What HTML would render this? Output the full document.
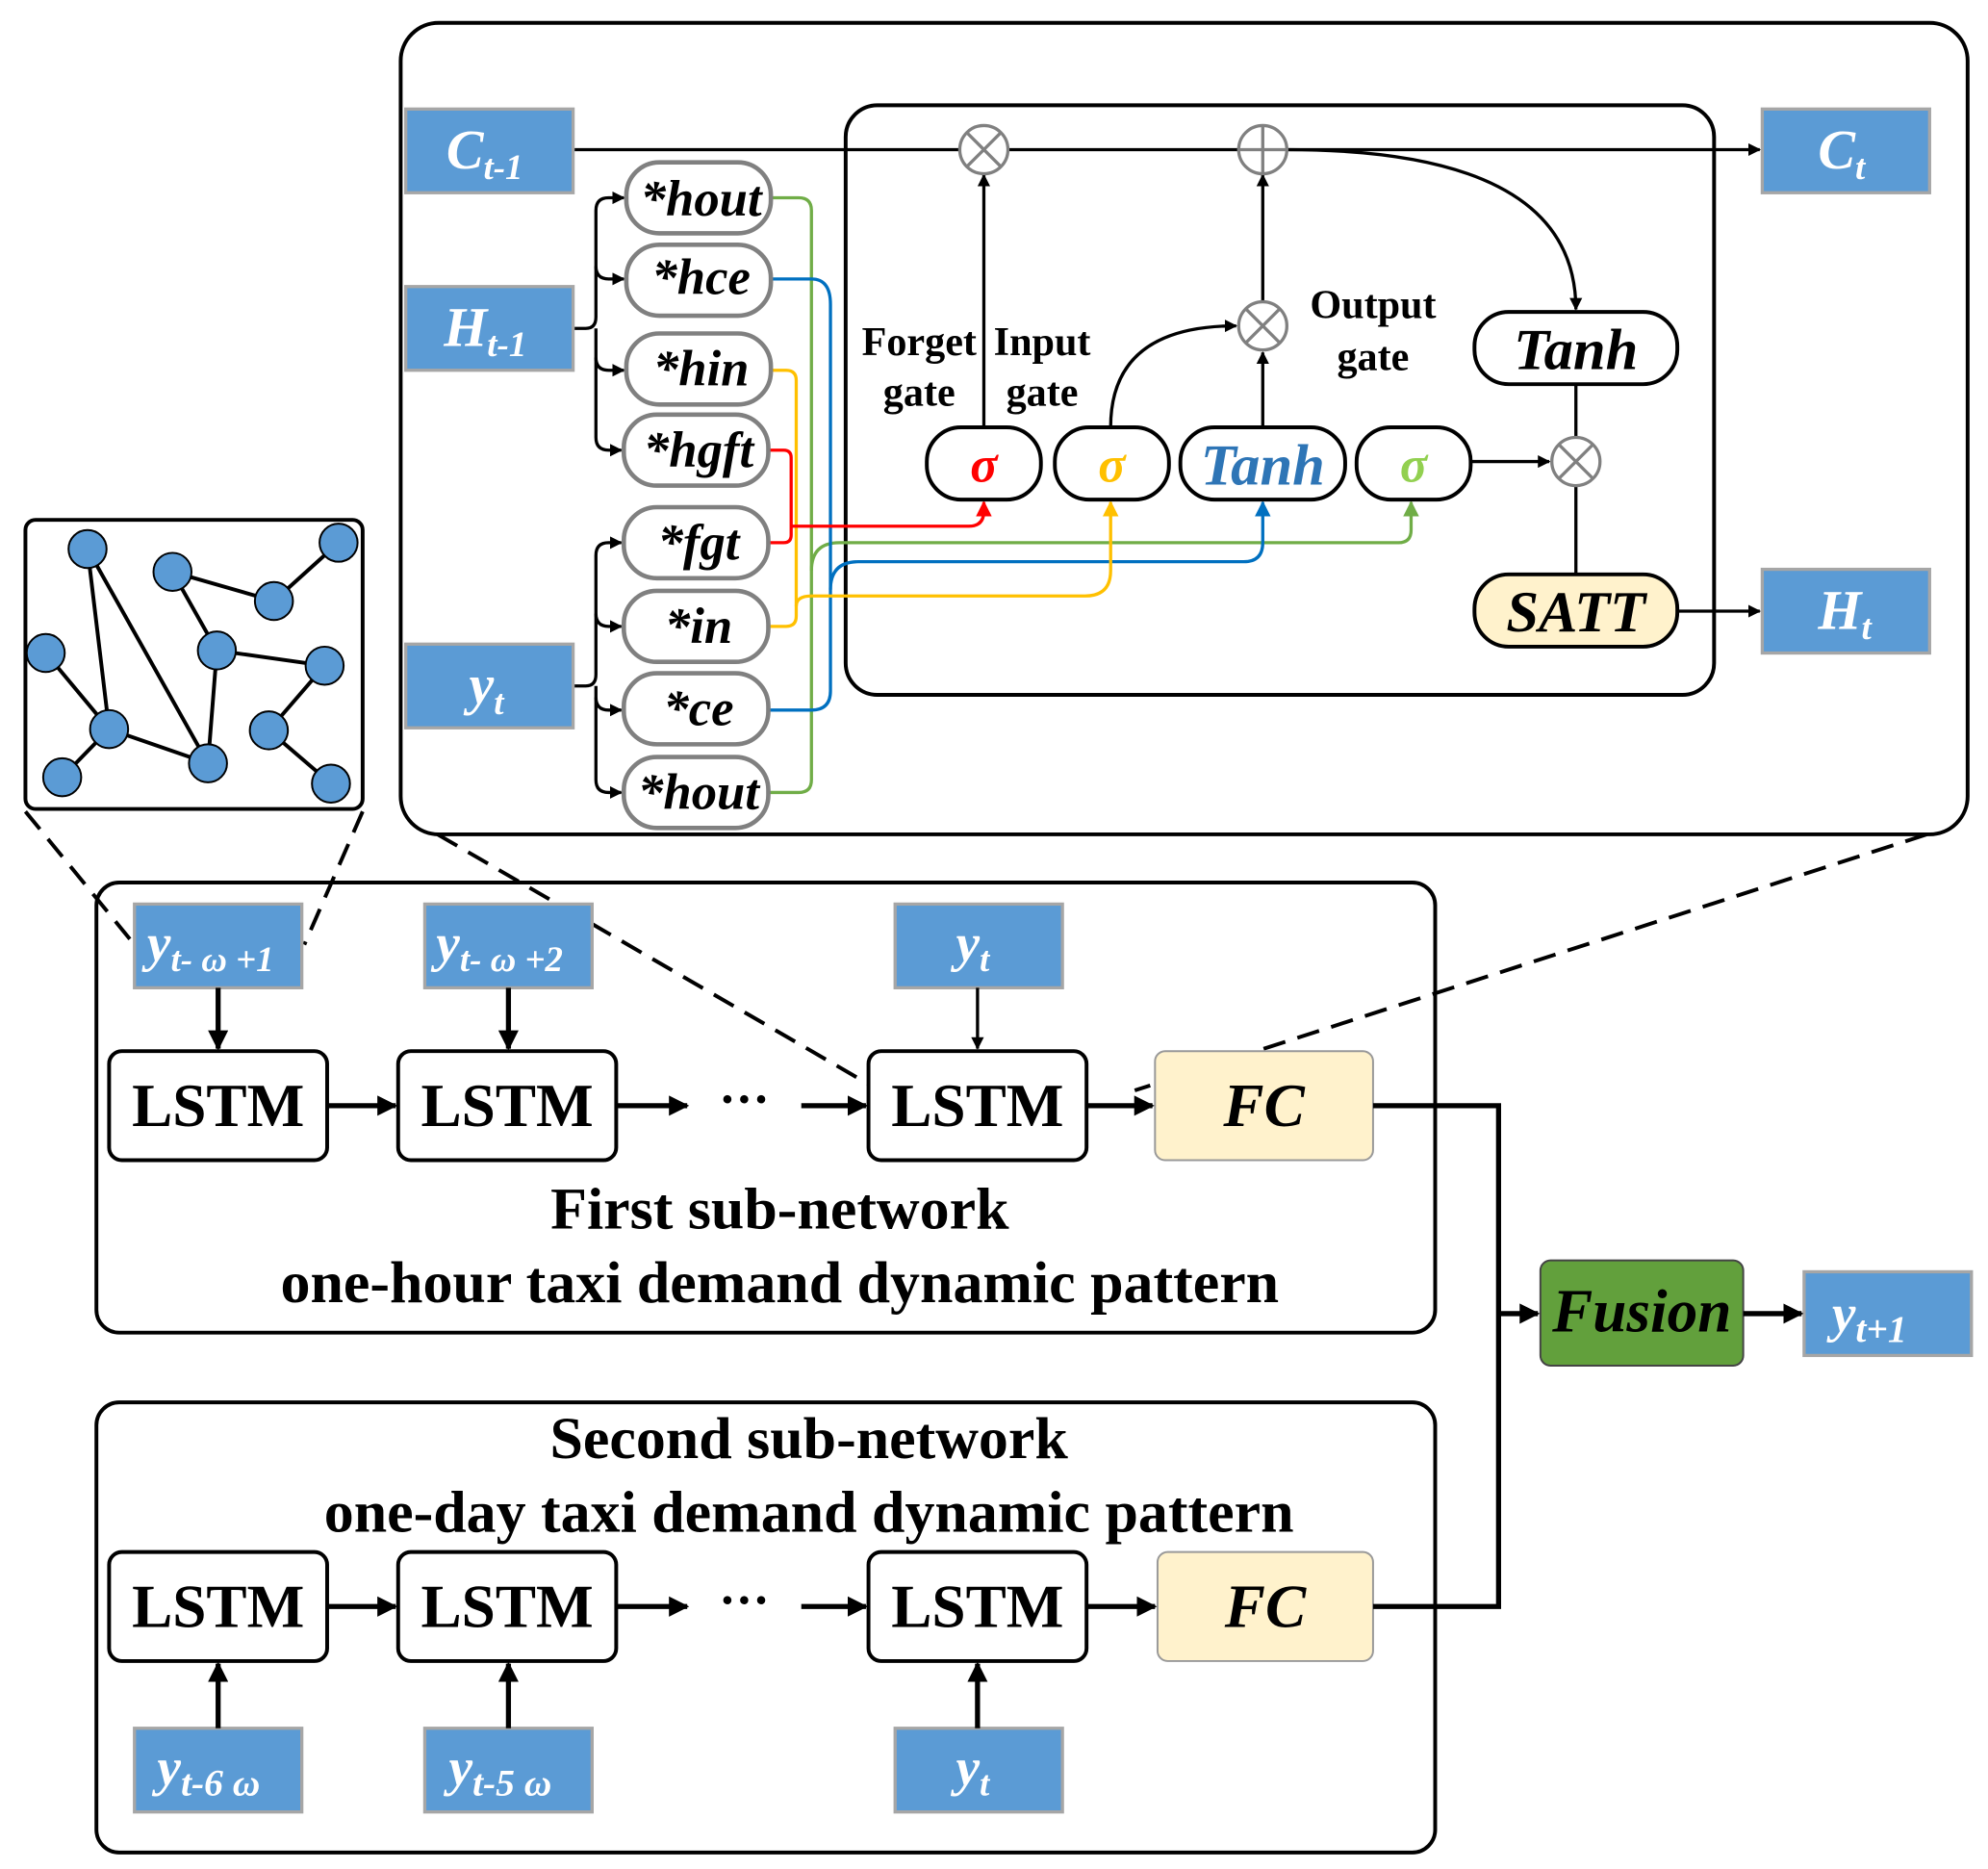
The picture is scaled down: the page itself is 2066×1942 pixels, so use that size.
<!DOCTYPE html>
<html><head><meta charset="utf-8"><style>
html,body{margin:0;padding:0;background:#fff}
svg{display:block}
text{font-family:"Liberation Serif",serif;font-weight:bold}
</style></head><body>
<svg width="2066" height="1942" viewBox="0 0 1568 1474" xmlns="http://www.w3.org/2000/svg">
<defs>
<marker id="a" viewBox="0 0 10 10" refX="9" refY="5" markerWidth="4" markerHeight="4" orient="auto"><path d="M0,0L10,5L0,10z" fill="#000"/></marker>
<marker id="ar" viewBox="0 0 10 10" refX="9" refY="5" markerWidth="5" markerHeight="5" orient="auto"><path d="M0,0L10,5L0,10z" fill="#f00"/></marker>
<marker id="ay" viewBox="0 0 10 10" refX="9" refY="5" markerWidth="5" markerHeight="5" orient="auto"><path d="M0,0L10,5L0,10z" fill="#ffc000"/></marker>
<marker id="ab" viewBox="0 0 10 10" refX="9" refY="5" markerWidth="5" markerHeight="5" orient="auto"><path d="M0,0L10,5L0,10z" fill="#0070c0"/></marker>
<marker id="ag" viewBox="0 0 10 10" refX="9" refY="5" markerWidth="5" markerHeight="5" orient="auto"><path d="M0,0L10,5L0,10z" fill="#70ad47"/></marker>
</defs>
<rect width="1568" height="1474" fill="#fff"/>
<rect x="316" y="18" width="1236" height="640" rx="30" fill="none" stroke="#000" stroke-width="3"/>
<rect x="667" y="83" width="685" height="465" rx="25" fill="none" stroke="#000" stroke-width="3"/>

<g fill="none" stroke-width="2.5">
<path d="M608,156 H630 Q640,156 640,166 V615 Q640,625 630,625 H605" stroke="#70ad47"/>
<path d="M640,450 Q640,428 662,428 H1103 Q1113,428 1113,418 V396" stroke="#70ad47" marker-end="url(#ag)"/>
<path d="M608,220 H640 Q655,220 655,240 V545 Q655,560 640,560 H605" stroke="#0070c0"/>
<path d="M655,465 Q655,443 677,443 H981 Q996,443 996,428 V396" stroke="#0070c0" marker-end="url(#ab)"/>
<path d="M608,292 H620 Q628,292 628,300 V486 Q628,494 620,494 H605" stroke="#ffc000"/>
<path d="M628,478 Q628,470 640,470 H856 Q876,470 876,450 V396" stroke="#ffc000" marker-end="url(#ay)"/>
<path d="M606,355 H618 Q624,355 624,361 V422 Q624,428 618,428 H605" stroke="#f00"/>
<path d="M624,415 H764 Q776,415 776,403 V396" stroke="#f00" marker-end="url(#ar)"/>
</g>

<g fill="none" stroke="#000" stroke-width="2.5">
<path d="M452,118 H757 M795,118 H977 M1015,118 H1388" marker-end="url(#a)"/>
<path d="M776,337 V138" marker-end="url(#a)"/>
<path d="M876,337 Q876,257 975,257" marker-end="url(#a)"/>
<path d="M996,337 V278" marker-end="url(#a)"/>
<path d="M996,238 V138" marker-end="url(#a)"/>
<path d="M1015,118 Q1243,118 1243,244" marker-end="url(#a)"/>
<path d="M1160,364 H1222" marker-end="url(#a)"/>
<path d="M1243,303 V345 M1243,383 V453"/>
<path d="M1323,482 H1388" marker-end="url(#a)"/>
<path d="M452,259 H462 Q470,259 470,250 V166 Q470,156 480,156 H492" marker-end="url(#a)"/>
<path d="M470,210 Q470,220 480,220 H492" marker-end="url(#a)"/>
<path d="M470,259 V282 Q470,292 480,292 H492" marker-end="url(#a)"/>
<path d="M470,282 V345 Q470,355 480,355 H490" marker-end="url(#a)"/>
<path d="M452,541 H462 Q470,541 470,532 V438 Q470,428 480,428 H490" marker-end="url(#a)"/>
<path d="M470,484 Q470,494 480,494 H490" marker-end="url(#a)"/>
<path d="M470,541 V550 Q470,560 480,560 H490" marker-end="url(#a)"/>
<path d="M470,550 V615 Q470,625 480,625 H490" marker-end="url(#a)"/>
</g>

<g fill="#5b9bd5" stroke="#a6a6a6" stroke-width="2.5">
<rect x="320" y="86" width="132" height="66"/>
<rect x="320" y="226" width="132" height="66"/>
<rect x="320" y="508" width="132" height="66"/>
<rect x="1390" y="86" width="132" height="66"/>
<rect x="1390" y="449" width="132" height="66"/>
</g>
<g fill="#fff" font-style="italic" font-size="44">
<text x="352" y="133">C<tspan font-size="28" dy="8">t-1</tspan></text>
<text x="350" y="273">H<tspan font-size="28" dy="8">t-1</tspan></text>
<text x="370" y="555">y<tspan font-size="28" dy="8">t</tspan></text>
<text x="1434" y="133">C<tspan font-size="28" dy="8">t</tspan></text>
<text x="1434" y="496">H<tspan font-size="28" dy="8">t</tspan></text>
</g>

<g fill="#fff" stroke="#808080" stroke-width="3.5">
<rect x="494" y="128" width="114" height="56" rx="26"/>
<rect x="494" y="193" width="114" height="56" rx="26"/>
<rect x="494" y="263" width="114" height="56" rx="26"/>
<rect x="492" y="327" width="114" height="56" rx="26"/>
<rect x="492" y="400" width="114" height="56" rx="26"/>
<rect x="492" y="466" width="114" height="56" rx="26"/>
<rect x="492" y="531" width="114" height="56" rx="26"/>
<rect x="492" y="597" width="114" height="56" rx="26"/>
</g>
<g font-style="italic" font-size="40" text-anchor="middle">
<text x="553" y="170">*hout</text>
<text x="553" y="232">*hce</text>
<text x="553" y="304">*hin</text>
<text x="551" y="368">*hgft</text>
<text x="551" y="441">*fgt</text>
<text x="551" y="507">*in</text>
<text x="551" y="572">*ce</text>
<text x="551" y="638">*hout</text>
</g>

<g fill="#fff" stroke="#000" stroke-width="3">
<rect x="731" y="337" width="90" height="57" rx="27"/>
<rect x="832" y="337" width="90" height="57" rx="27"/>
<rect x="931" y="337" width="130" height="57" rx="27"/>
<rect x="1070" y="337" width="90" height="57" rx="27"/>
<rect x="1163" y="246" width="160" height="57" rx="27"/>
<rect x="1163" y="453" width="160" height="57" rx="27" fill="#fff2cc"/>
</g>
<g font-style="italic" text-anchor="middle">
<text x="776" y="380" font-size="40" fill="#f00">σ</text>
<text x="877" y="380" font-size="40" fill="#ffc000">σ</text>
<text x="996" y="382" font-size="46" fill="#2e75b6">Tanh</text>
<text x="1243" y="291" font-size="46">Tanh</text>
<text x="1243" y="498" font-size="46">SATT</text>
<text x="1115" y="380" font-size="40" fill="#92d050">σ</text>
</g>
<g font-size="32" text-anchor="middle">
<text x="725" y="280">Forget</text><text x="725" y="320">gate</text>
<text x="822" y="280">Input</text><text x="822" y="320">gate</text>
<text x="1083" y="251">Output</text><text x="1083" y="292">gate</text>
</g>

<g fill="#fff" stroke="#808080" stroke-width="2.5">
<circle cx="776" cy="118" r="19"/><path d="M763,105L789,131M789,105L763,131"/>
<circle cx="996" cy="118" r="19"/><path d="M977,118H1015M996,99V137"/>
<circle cx="996" cy="257" r="19"/><path d="M983,244L1009,270M1009,244L983,270"/>
<circle cx="1243" cy="364" r="19"/><path d="M1230,351L1256,377M1256,351L1230,377"/>
</g>

<rect x="20" y="410" width="266" height="228" rx="8" fill="#fff" stroke="#000" stroke-width="3"/>
<g stroke="#000" stroke-width="3">
<path d="M69,433L86,575M69,433L164,602M136,451L216,474M267,428L216,474M136,451L171,513M171,513L256,525M171,513L164,602M36,515L86,575M86,575L49,613M86,575L164,602M256,525L212,576M212,576L261,618"/>
</g>
<g fill="#5b9bd5" stroke="#000" stroke-width="1.5">
<circle cx="69" cy="433" r="15"/><circle cx="136" cy="451" r="15"/><circle cx="267" cy="428" r="15"/>
<circle cx="216" cy="474" r="15"/><circle cx="36" cy="515" r="15"/><circle cx="171" cy="513" r="15"/>
<circle cx="256" cy="525" r="15"/><circle cx="86" cy="575" r="15"/><circle cx="49" cy="613" r="15"/>
<circle cx="164" cy="602" r="15"/><circle cx="212" cy="576" r="15"/><circle cx="261" cy="618" r="15"/>
</g>

<g stroke="#000" stroke-width="3" stroke-dasharray="18,10" fill="none">
<path d="M20,640L106,745M286,640L240,745M345,658L685,855M1520,658L895,860"/>
</g>

<rect x="76" y="696" width="1056" height="355" rx="18" fill="none" stroke="#000" stroke-width="3"/>
<rect x="76" y="1106" width="1056" height="355" rx="18" fill="none" stroke="#000" stroke-width="3"/>

<g fill="#5b9bd5" stroke="#a6a6a6" stroke-width="2.5">
<rect x="106" y="713" width="132" height="66"/>
<rect x="335" y="713" width="132" height="66"/>
<rect x="706" y="713" width="132" height="66"/>
<rect x="106" y="1363" width="132" height="66"/>
<rect x="335" y="1363" width="132" height="66"/>
<rect x="706" y="1363" width="132" height="66"/>
<rect x="1423" y="1003" width="132" height="66"/>
</g>
<g fill="#fff" font-style="italic" font-size="42">
<text x="116" y="758">y<tspan font-size="28" dy="8">t- ω +1</tspan></text>
<text x="344" y="758">y<tspan font-size="28" dy="8">t- ω +2</tspan></text>
<text x="754" y="758">y<tspan font-size="28" dy="8">t</tspan></text>
<text x="124" y="1408">y<tspan font-size="30" dy="8">t-6 ω</tspan></text>
<text x="354" y="1408">y<tspan font-size="30" dy="8">t-5 ω</tspan></text>
<text x="754" y="1408">y<tspan font-size="28" dy="8">t</tspan></text>
<text x="1445" y="1050">y<tspan font-size="30" dy="8">t+1</tspan></text>
</g>

<g fill="#fff" stroke="#000" stroke-width="3">
<rect x="86" y="829" width="172" height="86" rx="10"/>
<rect x="314" y="829" width="172" height="86" rx="10"/>
<rect x="685" y="829" width="172" height="86" rx="10"/>
<rect x="86" y="1224" width="172" height="86" rx="10"/>
<rect x="314" y="1224" width="172" height="86" rx="10"/>
<rect x="685" y="1224" width="172" height="86" rx="10"/>
</g>
<g fill="#fff2cc" stroke="#999" stroke-width="1.5">
<rect x="911" y="829" width="172" height="86" rx="8"/>
<rect x="913" y="1224" width="170" height="86" rx="8"/>
</g>
<rect x="1215" y="994" width="160" height="83" rx="8" fill="#62a03c" stroke="#444" stroke-width="1.5"/>

<g font-size="48" text-anchor="middle">
<text x="172" y="888">LSTM</text><text x="400" y="888">LSTM</text><text x="771" y="888">LSTM</text>
<text x="172" y="1283">LSTM</text><text x="400" y="1283">LSTM</text><text x="771" y="1283">LSTM</text>
<text x="997" y="888" font-style="italic">FC</text>
<text x="998" y="1283" font-style="italic">FC</text>
<text x="1295" y="1050" font-style="italic">Fusion</text>
<text x="587" y="880" font-size="40">···</text>
<text x="587" y="1275" font-size="40">···</text>
</g>
<g font-size="47" text-anchor="middle">
<text x="615" y="969">First sub-network</text>
<text x="615" y="1027">one-hour taxi demand dynamic pattern</text>
<text x="638" y="1150">Second sub-network</text>
<text x="638" y="1208">one-day taxi demand dynamic pattern</text>
</g>

<g fill="none" stroke="#000" stroke-width="4" marker-end="url(#a)">
<path d="M172,779V827"/><path d="M401,779V827"/>
<path d="M771,779V827" stroke-width="2.5"/>
<path d="M258,872H312"/><path d="M487,872H542"/><path d="M632,872H683"/><path d="M858,872H909"/>
<path d="M258,1267H312"/><path d="M487,1267H542"/><path d="M632,1267H683"/><path d="M858,1267H911"/>
<path d="M172,1363V1312"/><path d="M401,1363V1312"/><path d="M771,1363V1312"/>
<path d="M1182,1036H1213"/><path d="M1375,1036H1421"/>
</g>
<path d="M1083,872H1182V1267H1083" fill="none" stroke="#000" stroke-width="4"/>
</svg>
</body></html>
